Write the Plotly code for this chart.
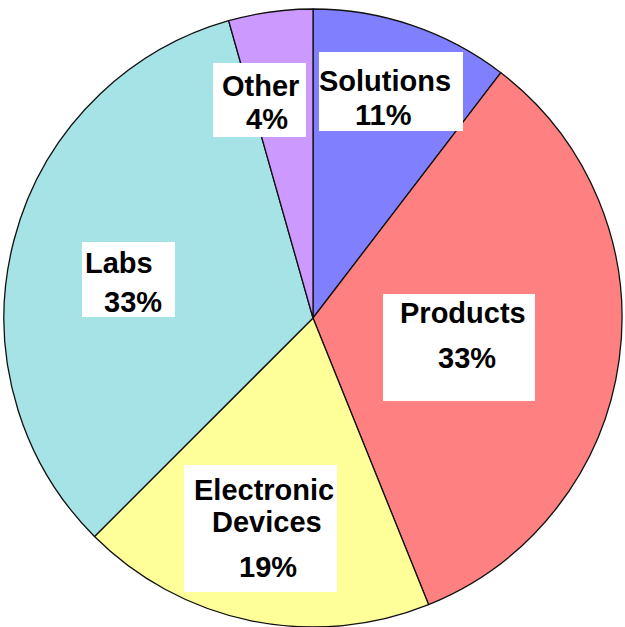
"""Pie chart of share by business area, with boxed labels."""

import plotly.graph_objects as go

CATEGORIES = ["Solutions", "Products", "Electronic Devices", "Labs", "Other"]
VALUES = [10.4, 33.5, 18.6, 33.1, 4.4]
PERCENT_LABELS = ["11%", "33%", "19%", "33%", "4%"]
COLORS = ["#8080FF", "#FF8080", "#FFFF99", "#A6E3E6", "#CC99FF"]

WIDTH, HEIGHT = 625, 627

# label boxes in pixels (x0, y0, x1, y1), measured from the top-left corner
LABEL_BOXES = [
    (319, 52, 463, 131),
    (383, 294, 535, 401),
    (184, 465, 337, 592),
    (82, 242, 175, 317),
    (213, 63, 306, 137),
]
# text lines of each label: (text, x, y) in pixels
LABEL_LINES = [
    [("Solutions", 385, 81), (PERCENT_LABELS[0], 384, 115)],
    [("Products", 463, 313), (PERCENT_LABELS[1], 467, 358)],
    [("Electronic", 264, 490), ("Devices", 267, 522), (PERCENT_LABELS[2], 268, 567)],
    [("Labs", 119, 263), (PERCENT_LABELS[3], 133, 302)],
    [("Other", 260, 86), (PERCENT_LABELS[4], 267, 119)],
]


def px_x(x):
    return x / WIDTH


def px_y(y):
    return 1 - y / HEIGHT


figure = go.Figure(
    go.Pie(
        labels=CATEGORIES,
        values=VALUES,
        sort=False,
        direction="clockwise",
        rotation=0,
        textinfo="none",
        hoverinfo="label+percent",
        marker={"colors": COLORS, "line": {"color": "#111111", "width": 1.3}},
        domain={"x": [px_x(4), px_x(622)], "y": [px_y(627), px_y(9)]},
    )
)

for x0, y0, x1, y1 in LABEL_BOXES:
    figure.add_shape(
        type="rect",
        xref="paper",
        yref="paper",
        x0=px_x(x0),
        x1=px_x(x1),
        y0=px_y(y1),
        y1=px_y(y0),
        fillcolor="#FFFFFF",
        line_width=0,
        layer="above",
    )

for lines in LABEL_LINES:
    for text, x, y in lines:
        figure.add_annotation(
            text=f"<b>{text}</b>",
            xref="paper",
            yref="paper",
            x=px_x(x),
            y=px_y(y),
            xanchor="center",
            yanchor="middle",
            showarrow=False,
            font={"family": "Liberation Sans, Arial", "size": 29, "color": "#000000"},
        )

figure.update_layout(
    width=WIDTH,
    height=HEIGHT,
    margin={"l": 0, "r": 0, "t": 0, "b": 0},
    paper_bgcolor="#FFFFFF",
    plot_bgcolor="#FFFFFF",
    showlegend=False,
)

figure.write_html(
    "out.html",
    config={"displayModeBar": False},
    post_script="document.body.style.margin = '0'; document.body.style.overflow = 'hidden';",
)
